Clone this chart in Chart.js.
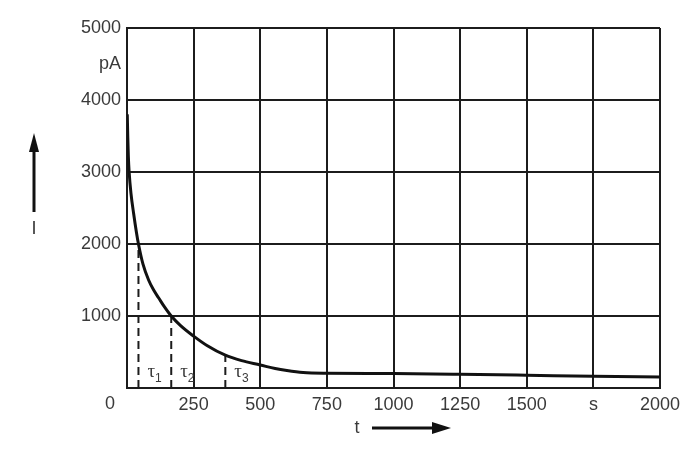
<!DOCTYPE html>
<html>
<head>
<meta charset="utf-8">
<script src="https://cdn.jsdelivr.net/npm/chart.js@4/dist/chart.umd.min.js"></script>
<style>
  html, body { margin: 0; padding: 0; background: #fff; }
  #wrap { width: 700px; height: 458px; }
</style>
</head>
<body>
<div id="wrap"><canvas id="decayChart" width="700" height="458"></canvas></div>
<script>
// 電流の減衰曲線 I(t)
const timeS = [1, 3, 5, 8, 15, 25, 35, 43, 60, 81, 100, 119, 140, 166, 200, 250, 300, 369, 430, 500, 556, 600, 661, 750, 1000, 1250, 1500, 1750, 2000];
const currentPA = [3800, 3480, 3220, 3000, 2700, 2420, 2170, 2000, 1720, 1500, 1360, 1250, 1130, 1000, 870, 720, 590, 455, 380, 320, 270, 242, 215, 205, 200, 190, 177, 163, 153];

// 時定数 τ1..τ3 の位置と曲線上の値
const tauNames = ['1', '2', '3'];
const tauTimes = [43, 166, 369];
const tauCurrents = [2000, 1000, 455];

// 軸ラベル
const xTickLabels = { 0: '', 250: '250', 500: '500', 750: '750', 1000: '1000', 1250: '1250', 1500: '1500', 1750: 's', 2000: '2000' };
const yTickLabels = { 0: '', 1000: '1000', 2000: '2000', 3000: '3000', 4000: '4000', 4500: 'pA', 5000: '5000' };

const FONT = '"Liberation Sans", Arial, sans-serif';
const TEXT_COLOR = '#3a3a3a';
const LINE_COLOR = '#1c1c1c';

const curvePoints = timeS.map((t, i) => ({ x: t, y: currentPA[i] }));

const tauDatasets = tauTimes.map((t, i) => ({
    label: 'tau' + tauNames[i],
    data: [{ x: t, y: 0 }, { x: t, y: tauCurrents[i] }],
    borderColor: LINE_COLOR,
    borderWidth: 2,
    borderDash: [8, 5],
    pointRadius: 0,
    tension: 0
}));

// 注釈: τラベル, 原点の0, 軸の矢印
const annotations = {
    id: 'annotations',
    afterDraw(chart) {
        const { ctx, chartArea, scales } = chart;
        const x = scales.x;
        ctx.save();
        ctx.fillStyle = TEXT_COLOR;

        // τ labels
        tauTimes.forEach((t, i) => {
            const px = x.getPixelForValue(t) + 9;
            const py = chartArea.bottom - 11;
            ctx.font = '19px "Liberation Serif", "Times New Roman", serif';
            ctx.textAlign = 'left';
            ctx.textBaseline = 'alphabetic';
            ctx.fillText('τ', px, py);
            const w = ctx.measureText('τ').width;
            ctx.font = '12px ' + FONT;
            ctx.fillText(tauNames[i], px + w, py + 5);
        });

        // 原点の "0"
        ctx.font = '18px ' + FONT;
        ctx.textAlign = 'center';
        ctx.textBaseline = 'middle';
        ctx.fillText('0', chartArea.left - 17, chartArea.bottom + 16);

        // 縦軸: I と上向き矢印
        ctx.fillText('I', 34, 229);
        ctx.strokeStyle = '#111';
        ctx.fillStyle = '#111';
        ctx.lineWidth = 3;
        ctx.beginPath();
        ctx.moveTo(34, 212);
        ctx.lineTo(34, 148);
        ctx.stroke();
        ctx.beginPath();
        ctx.moveTo(34, 133);
        ctx.lineTo(29, 152);
        ctx.lineTo(39, 152);
        ctx.closePath();
        ctx.fill();

        // 横軸: t と右向き矢印
        ctx.fillStyle = TEXT_COLOR;
        ctx.fillText('t', 357, 428);
        ctx.fillStyle = '#111';
        ctx.beginPath();
        ctx.moveTo(372, 428);
        ctx.lineTo(436, 428);
        ctx.stroke();
        ctx.beginPath();
        ctx.moveTo(451, 428);
        ctx.lineTo(432, 422);
        ctx.lineTo(432, 434);
        ctx.closePath();
        ctx.fill();

        ctx.restore();
    }
};

const config = {
    type: 'line',
    data: {
        datasets: [
            {
                label: 'I',
                data: curvePoints,
                borderColor: '#111',
                borderWidth: 3,
                pointRadius: 0,
                cubicInterpolationMode: 'monotone'
            },
            ...tauDatasets
        ]
    },
    options: {
        responsive: false,
        animation: false,
        layout: { padding: { top: 28, right: 40, bottom: 0, left: 0 } },
        plugins: {
            legend: { display: false },
            tooltip: { enabled: false }
        },
        scales: {
            x: {
                type: 'linear',
                min: 0,
                max: 2000,
                afterFit(scale) { scale.height = 70; },
                afterBuildTicks(scale) {
                    scale.ticks = Object.keys(xTickLabels).map(v => ({ value: Number(v) }));
                },
                ticks: {
                    autoSkip: false,
                    maxRotation: 0,
                    padding: 6,
                    color: TEXT_COLOR,
                    font: { family: FONT, size: 18 },
                    callback: v => xTickLabels[v]
                },
                grid: { color: LINE_COLOR, lineWidth: 2, drawTicks: false },
                border: { color: LINE_COLOR, width: 2 }
            },
            y: {
                min: 0,
                max: 5000,
                afterFit(scale) { scale.width = 127; },
                afterBuildTicks(scale) {
                    scale.ticks = Object.keys(yTickLabels).map(v => ({ value: Number(v) }));
                },
                ticks: {
                    autoSkip: false,
                    padding: 6,
                    color: TEXT_COLOR,
                    font: { family: FONT, size: 18 },
                    callback: v => yTickLabels[v]
                },
                grid: {
                    color: c => (c.tick && c.tick.value % 1000 === 0) ? LINE_COLOR : 'rgba(0,0,0,0)',
                    lineWidth: 2,
                    drawTicks: false
                },
                border: { color: LINE_COLOR, width: 2 }
            }
        }
    },
    plugins: [annotations]
};

new Chart(document.getElementById('decayChart').getContext('2d'), config);
</script>
</body>
</html>
